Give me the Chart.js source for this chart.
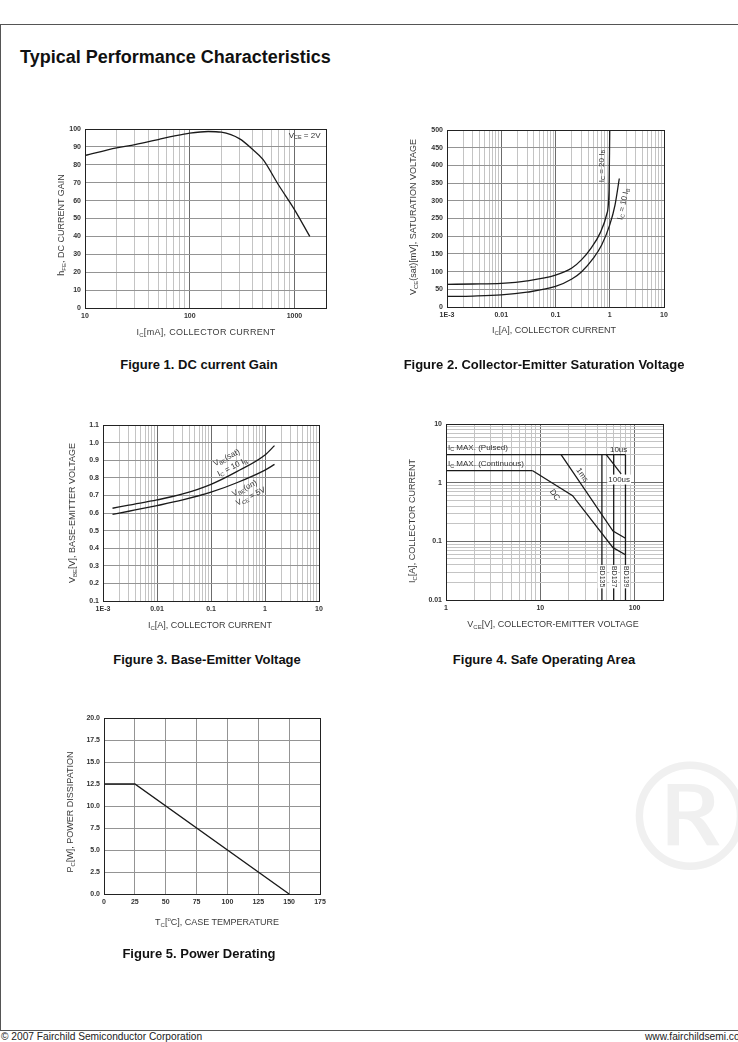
<!DOCTYPE html>
<html>
<head>
<meta charset="utf-8">
<script src="https://cdn.jsdelivr.net/npm/chart.js@4/dist/chart.umd.min.js"></script>
<style>
  html,body{margin:0;padding:0;}
  body{width:738px;height:1042px;position:relative;background:#fff;overflow:hidden;font-family:'Liberation Sans',Arial,Helvetica,sans-serif;color:#111;}
  .frame{position:absolute;left:0;top:24px;width:800px;height:1007px;border:1px solid #555;box-sizing:border-box;}
  .wm{position:absolute;left:690px;top:818px;transform:translate(-50%,-50%);font-size:150px;line-height:1;color:#f0f0f0;font-family:'DejaVu Sans',sans-serif;}
  .title{position:absolute;left:20px;top:57px;transform:translateY(-50%);font-weight:bold;font-size:18px;white-space:nowrap;line-height:1;}
  .foot{position:absolute;top:1037px;transform:translateY(-50%);font-size:10.2px;white-space:nowrap;line-height:1;color:#222;}
  .cap{position:absolute;font-weight:bold;font-size:13px;white-space:nowrap;transform:translate(-50%,-50%);line-height:1;}
  .axt{position:absolute;font-size:9px;color:#3a3a3a;white-space:nowrap;line-height:1;transform:translate(-50%,-50%);}
  .axt.v{transform:translate(-50%,-50%) rotate(-90deg);}
  .axt sub{font-size:6px;vertical-align:-2px;line-height:0;}
  .axt sup{font-size:6px;vertical-align:4px;line-height:0;}
  canvas{position:absolute;}
</style>
</head>
<body>
<div class="frame"></div>
<div class="wm">®</div>
<div class="title">Typical Performance Characteristics</div>

<canvas id="c1"></canvas>
<canvas id="c2"></canvas>
<canvas id="c3"></canvas>
<canvas id="c4"></canvas>
<canvas id="c5"></canvas>

<div class="axt v" style="left:61px;top:225px;">h<sub>FE</sub>, DC CURRENT GAIN</div>
<div class="axt" style="left:206px;top:332px;letter-spacing:0.3px;">I<sub>C</sub>[mA], COLLECTOR CURRENT</div>
<div class="axt v" style="left:413px;top:217px;">V<sub>CE</sub>(sat)[mV], SATURATION VOLTAGE</div>
<div class="axt" style="left:554px;top:330px;">I<sub>C</sub>[A], COLLECTOR CURRENT</div>
<div class="axt v" style="left:72px;top:513px;">V<sub>BE</sub>[V], BASE-EMITTER VOLTAGE</div>
<div class="axt" style="left:210px;top:625px;">I<sub>C</sub>[A], COLLECTOR CURRENT</div>
<div class="axt v" style="left:412px;top:521px;">I<sub>C</sub>[A], COLLECTOR CURRENT</div>
<div class="axt" style="left:553px;top:624px;">V<sub>CE</sub>[V], COLLECTOR-EMITTER VOLTAGE</div>
<div class="axt v" style="left:70px;top:812px;">P<sub>C</sub>[W], POWER DISSIPATION</div>
<div class="axt" style="left:217px;top:922px;">T<sub>C</sub>[<sup>o</sup>C], CASE TEMPERATURE</div>

<div class="cap" style="left:199px;top:364px;">Figure 1. DC current Gain</div>
<div class="cap" style="left:544px;top:364px;">Figure 2. Collector-Emitter Saturation Voltage</div>
<div class="cap" style="left:207px;top:659px;">Figure 3. Base-Emitter Voltage</div>
<div class="cap" style="left:544px;top:659px;">Figure 4. Safe Operating Area</div>
<div class="cap" style="left:199px;top:953px;">Figure 5. Power Derating</div>

<div class="foot" style="left:1px;">© 2007 Fairchild Semiconductor Corporation</div>
<div class="foot" style="left:645px;">www.fairchildsemi.com</div>

<script>
// ---------------- DATA ----------------
// Figure 1: DC current gain (VCE = 2V)
const fig1Ic  = [10, 20, 30, 50, 70, 100, 150, 200, 300, 400, 500, 700, 1000, 1400];
const fig1Hfe = [85.2, 89.5, 91.3, 94.1, 96, 97.7, 98.6, 98.2, 94.5, 88.5, 83, 69, 55, 40];
const fig1XLabelVals = [10, 100, 1000];
const fig1XLabels = ['10', '100', '1000'];
const fig1YTicks = [0, 10, 20, 30, 40, 50, 60, 70, 80, 90, 100];

// Figure 2: Collector-emitter saturation voltage
const fig2IcA = [0.001, 0.003, 0.01, 0.03, 0.1, 0.2, 0.3, 0.46, 0.66, 0.88, 0.97, 1.0];
const fig2Vce20 = [64, 65, 67, 74, 90, 110, 133, 168, 208, 262, 330, 500];
const fig2IcB = [0.001, 0.003, 0.01, 0.03, 0.1, 0.2, 0.3, 0.5, 0.71, 1.0, 1.25, 1.5];
const fig2Vce10 = [30, 31, 34, 42, 58, 79, 99, 138, 175, 232, 288, 363];
const fig2XLabelVals = [0.001, 0.01, 0.1, 1, 10];
const fig2XLabels = ['1E-3', '0.01', '0.1', '1', '10'];
const fig2YTicks = [0, 50, 100, 150, 200, 250, 300, 350, 400, 450, 500];

// Figure 3: Base-emitter voltage
const fig3Ic  = [0.0015, 0.003, 0.01, 0.03, 0.1, 0.3, 1, 1.5];
const fig3Sat = [0.627, 0.645, 0.674, 0.708, 0.763, 0.835, 0.93, 0.983];
const fig3On  = [0.592, 0.61, 0.642, 0.674, 0.718, 0.772, 0.844, 0.876];
const fig3XLabelVals = [0.001, 0.01, 0.1, 1, 10];
const fig3XLabels = ['1E-3', '0.01', '0.1', '1', '10'];
const fig3YTicks = [0.1, 0.2, 0.3, 0.4, 0.5, 0.6, 0.7, 0.8, 0.9, 1.0, 1.1];

// Figure 4: Safe operating area
const soaPulsedV = [1, 80],          soaPulsedI = [3, 3];
const soaContV   = [1, 8.3],         soaContI   = [1.6, 1.6];
const soaDcV     = [8.3, 22, 59, 80], soaDcI    = [1.6, 0.6, 0.078, 0.059];
const soa1msV    = [16.6, 59, 80],   soa1msI    = [3, 0.15, 0.113];
const soa100usV  = [50, 72],         soa100usI  = [3, 1.41];
const soaBdV     = [45, 60, 80];     // BD135, BD137, BD139 VCEO limits
const soaBdNames = ['BD135', 'BD137', 'BD139'];
const soaBdI     = [3, 0.01];
const fig4XLabelVals = [1, 10, 100];
const fig4XLabels = ['1', '10', '100'];
const fig4YLabelVals = [0.01, 0.1, 1, 10];
const fig4YLabels = ['0.01', '0.1', '1', '10'];

// Figure 5: Power derating
const fig5Tc = [0, 25, 150];
const fig5Pc = [12.5, 12.5, 0];
const fig5XTicks = [0, 25, 50, 75, 100, 125, 150, 175];
const fig5YTicks = [0, 2.5, 5, 7.5, 10, 12.5, 15, 17.5, 20];

// ---------------- HELPERS ----------------
const FONT = "'Liberation Sans', Arial, Helvetica, sans-serif";
const pts = (xs, ys) => xs.map((x, i) => ({x, y: ys[i]}));
const isMajor = v => Math.abs(Math.log10(v) - Math.round(Math.log10(v))) < 1e-9;
function decadeTicks(min, max) {
  const out = [];
  for (let e = Math.floor(Math.log10(min)); e <= Math.ceil(Math.log10(max)); e++) {
    for (let m = 1; m <= 9; m++) {
      const v = parseFloat((m * Math.pow(10, e)).toPrecision(6));
      if (v >= min * 0.9999 && v <= max * 1.0001) out.push(v);
    }
  }
  if (out[out.length - 1] < max) out.push(max);
  return out;
}
const tickFont = {family: FONT, size: 7, weight: 'bold'};

function logScale(axis, min, max, labelVals, labels) {
  const tv = decadeTicks(min, max);
  return {
    type: 'logarithmic', min, max, position: axis === 'x' ? 'bottom' : 'left',
    afterBuildTicks: s => { s.ticks = tv.map(v => ({value: v, major: isMajor(v)})); },
    ticks: {
      autoSkip: false, maxRotation: 0, minRotation: 0, padding: 4,
      color: '#333', font: tickFont,
      callback: v => { const i = labelVals.findIndex(u => Math.abs(u - v) < u * 1e-6); return i >= 0 ? labels[i] : ''; }
    },
    grid: {drawTicks: false, lineWidth: 1, color: c => (c.tick && c.tick.major) ? '#6c6c6c' : '#c4c4c4'},
    border: {display: false}
  };
}
function linScale(axis, tickVals, fmt) {
  return {
    type: 'linear', min: tickVals[0], max: tickVals[tickVals.length - 1], position: axis === 'x' ? 'bottom' : 'left',
    afterBuildTicks: s => { s.ticks = tickVals.map(v => ({value: v})); },
    ticks: {autoSkip: false, maxRotation: 0, minRotation: 0, padding: 4, color: '#333', font: tickFont, callback: v => fmt(v)},
    grid: {drawTicks: false, lineWidth: 1, color: '#949494'},
    border: {display: false}
  };
}

function parseRich(s) {
  const parts = []; const re = /_\{([^}]*)\}/g; let last = 0, m;
  while ((m = re.exec(s))) { if (m.index > last) parts.push([s.slice(last, m.index), false]); parts.push([m[1], true]); last = re.lastIndex; }
  if (last < s.length) parts.push([s.slice(last), false]);
  return parts;
}
function drawRich(ctx, x, y, text, angle, size, align, bg) {
  const parts = parseRich(text);
  ctx.save();
  ctx.translate(x, y);
  ctx.rotate(angle * Math.PI / 180);
  let w = 0;
  const segs = parts.map(p => { const fs = p[1] ? size * 0.68 : size; ctx.font = fs + 'px ' + FONT; const mw = ctx.measureText(p[0]).width; w += mw; return {t: p[0], fs, sub: p[1], w: mw}; });
  let x0 = align === 'left' ? 0 : -w / 2;
  if (bg) { ctx.fillStyle = '#fff'; ctx.fillRect(x0 - 1, -size * 0.62, w + 2, size * 1.24); }
  ctx.fillStyle = '#333'; ctx.textBaseline = 'middle'; ctx.textAlign = 'left';
  for (const s of segs) { ctx.font = s.fs + 'px ' + FONT; ctx.fillText(s.t, x0, s.sub ? size * 0.28 : 0); x0 += s.w; }
  ctx.restore();
}
const framePlugin = {
  id: 'frame',
  afterDatasetsDraw(chart) {
    const {ctx, chartArea: a} = chart;
    ctx.save(); ctx.strokeStyle = '#222'; ctx.lineWidth = 1;
    ctx.strokeRect(Math.round(a.left) + 0.5, Math.round(a.top) + 0.5, Math.round(a.right - a.left), Math.round(a.bottom - a.top));
    ctx.restore();
  }
};
const notesPlugin = {
  id: 'notes',
  afterDraw(chart, args, opts) {
    const {ctx} = chart; const xs = chart.scales.x, ys = chart.scales.y;
    (opts.list || []).forEach(n => drawRich(ctx, xs.getPixelForValue(n.x), ys.getPixelForValue(n.y), n.t, n.a || 0, n.s || 8, n.align, n.bg));
  }
};

function line(data, extra) {
  return Object.assign({data, borderColor: '#1a1a1a', borderWidth: 1.3, pointRadius: 0, fill: false, tension: 0}, extra || {});
}

function build(id, area, xs, ys, datasets, notes) {
  const P = {l: 46, t: 12, r: 24, b: 24};
  const cv = document.getElementById(id);
  const W = area.r - area.l + P.l + P.r, H = area.b - area.t + P.t + P.b;
  cv.width = W; cv.height = H;
  cv.style.left = (area.l - P.l) + 'px'; cv.style.top = (area.t - P.t) + 'px';
  cv.style.width = W + 'px'; cv.style.height = H + 'px';
  xs.afterFit = s => { s.height = P.b; };
  ys.afterFit = s => { s.width = P.l; };
  return new Chart(cv, {
    type: 'line',
    data: {datasets},
    options: {
      responsive: false, animation: false, devicePixelRatio: 1,
      layout: {padding: {left: 0, top: P.t, right: P.r, bottom: 0}},
      plugins: {legend: {display: false}, tooltip: {enabled: false}, notes: {list: notes}},
      scales: {x: xs, y: ys}
    },
    plugins: [framePlugin, notesPlugin]
  });
}

// ---------------- CHARTS ----------------
build('c1', {l: 85, t: 129, r: 326, b: 308},
  logScale('x', 10, 2000, fig1XLabelVals, fig1XLabels),
  linScale('y', fig1YTicks, v => String(v)),
  [line(pts(fig1Ic, fig1Hfe), {cubicInterpolationMode: 'monotone'})],
  [{t: 'V_{CE} = 2V', x: 1250, y: 96.4, s: 8}]);

build('c2', {l: 447, t: 130, r: 664, b: 307},
  logScale('x', 0.001, 10, fig2XLabelVals, fig2XLabels),
  linScale('y', fig2YTicks, v => String(v)),
  [line(pts(fig2IcA, fig2Vce20), {cubicInterpolationMode: 'monotone'}),
   line(pts(fig2IcB, fig2Vce10), {cubicInterpolationMode: 'monotone'})],
  [{t: 'I_{C} = 20 I_{B}', x: 0.705, y: 398, a: -90, s: 8},
   {t: 'I_{C} = 10 I_{B}', x: 1.78, y: 291, a: -78, s: 8}]);

build('c3', {l: 103, t: 425, r: 319, b: 601},
  logScale('x', 0.001, 10, fig3XLabelVals, fig3XLabels),
  linScale('y', fig3YTicks, v => v.toFixed(1)),
  [line(pts(fig3Ic, fig3Sat), {cubicInterpolationMode: 'monotone'}),
   line(pts(fig3Ic, fig3On), {cubicInterpolationMode: 'monotone'})],
  [{t: 'V_{BE}(sat)', x: 0.195, y: 0.914, a: -27, s: 8},
   {t: 'I_{C} = 10 I_{B}', x: 0.248, y: 0.86, a: -27, s: 8},
   {t: 'V_{BE}(on)', x: 0.42, y: 0.74, a: -27, s: 8},
   {t: 'V_{CE} = 5V', x: 0.544, y: 0.693, a: -27, s: 8}]);

const soaSets = [
  line(pts(soaPulsedV, soaPulsedI)),
  line(pts(soaContV, soaContI)),
  line(pts(soaDcV, soaDcI)),
  line(pts(soa1msV, soa1msI)),
  line(pts(soa100usV, soa100usI))
];
soaBdV.forEach(v => soaSets.push(line(pts([v, v], soaBdI))));
const soaNotes = [
  {t: 'I_{C} MAX. (Pulsed)', x: 1.05, y: 4.0, align: 'left', s: 8},
  {t: 'I_{C} MAX. (Continuous)', x: 1.05, y: 2.08, align: 'left', s: 8},
  {t: '10us', x: 67.7, y: 3.6, s: 8},
  {t: '100us', x: 68.6, y: 1.13, s: 8, bg: true},
  {t: '1ms', x: 27.7, y: 1.35, a: 56, s: 8},
  {t: 'DC', x: 14.2, y: 0.617, a: 55, s: 8}
];
soaBdV.forEach((v, i) => soaNotes.push({t: soaBdNames[i], x: v, y: 0.025, a: 90, s: 7, bg: true}));
build('c4', {l: 446, t: 424, r: 663, b: 600},
  logScale('x', 1, 200, fig4XLabelVals, fig4XLabels),
  logScale('y', 0.01, 10, fig4YLabelVals, fig4YLabels),
  soaSets, soaNotes);

build('c5', {l: 104, t: 718, r: 320, b: 894},
  linScale('x', fig5XTicks, v => String(v)),
  linScale('y', fig5YTicks, v => v.toFixed(1)),
  [line(pts(fig5Tc, fig5Pc))],
  []);
</script>
</body>
</html>
